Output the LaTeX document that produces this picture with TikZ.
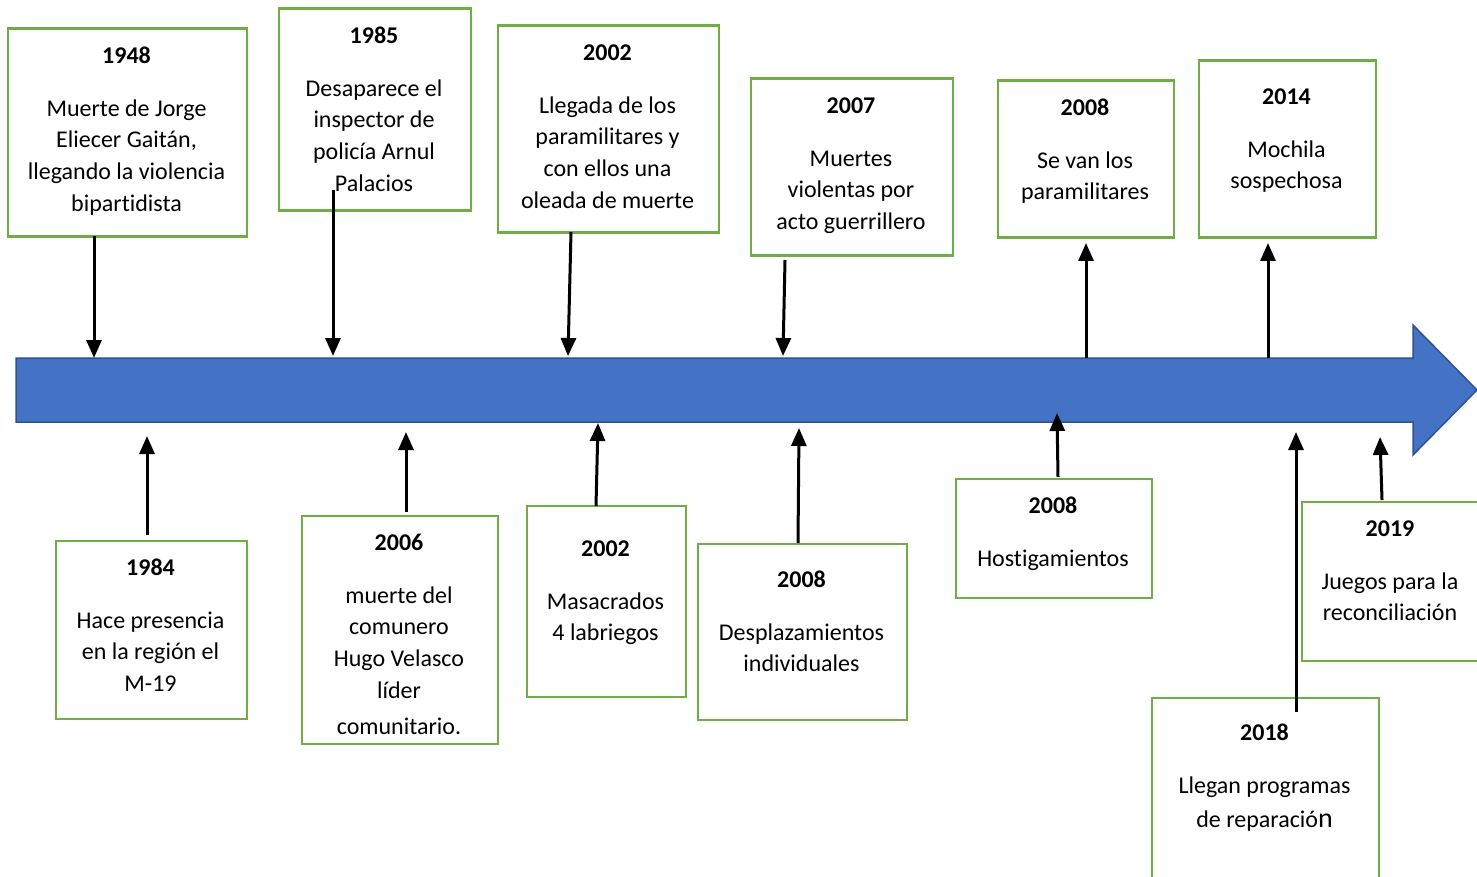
\documentclass[tikz,border=0pt]{standalone}
\usepackage{fontspec}
\setmainfont{Carlito}[Ligatures=NoCommon]
\usetikzlibrary{arrows.meta}
\definecolor{boxgreen}{HTML}{70AD47}
\definecolor{lineblue}{HTML}{4472C4}
\definecolor{lineborder}{HTML}{2F528F}
\tikzset{
  evbox/.style={draw=boxgreen, line width=2.5pt, fill=white, inner sep=0pt, anchor=north west},
  evtext/.style={anchor=north, inner sep=0pt, align=center, font=\fontsize{24}{31.7}\selectfont},
  conn/.style={line width=3pt, -{Triangle[length=18pt,width=15pt]}},
}
% \ev{name}{left}{top}{right}{bottom}{textx}{texty}{year}{body}
\newcommand{\ev}[9]{%
  \node[evbox, minimum width={(#4-#2)*1pt}, minimum height={(#5-#3)*1pt}] (b#1) at (#2-0.5,#3-0.5) {};
  \node[evtext] (t#1) at (#6,#7+1.5) {\strut\textbf{#8}\\[21.3pt]#9};
}
\begin{document}
\begin{tikzpicture}[x=1pt,y=-1pt]
\useasboundingbox (0,0) rectangle (1477,877);
\clip (0,0) rectangle (1477,877);
% timeline
\draw[fill=lineblue, draw=lineborder, line width=1.5pt]
  (16,358) -- (1413,358) -- (1413,325) -- (1477,390) -- (1413,455) -- (1413,422) -- (16,422) -- cycle;
% events above
\ev{1948}{7}{28}{246}{236}{126.5}{39.4}{1948}{Muerte de Jorge\\Eliecer Gaitán,\\llegando la violencia\\bipartidista}
\ev{1985}{278}{8}{470}{210}{374}{19.4}{1985}{Desaparece el\\inspector de\\policía Arnul\\Palacios}
\ev{2002a}{497}{25}{718}{232}{607.5}{36.4}{2002}{Llegada de los\\paramilitares y\\con ellos una\\oleada de muerte}
\ev{2007}{750}{78}{952}{255}{851}{89.4}{2007}{Muertes\\violentas por\\acto guerrillero}
\ev{2008a}{997}{80}{1173}{237}{1085}{91.4}{2008}{Se van los\\paramilitares}
\ev{2014}{1198}{60}{1375}{237}{1286.5}{80.4}{2014}{Mochila\\sospechosa}
% events below
\ev{1984}{55}{540}{246}{718}{150.5}{551.4}{1984}{Hace presencia\\en la región el\\M-19}
\ev{2006}{301}{515}{497}{743}{399}{526.4}{2006}{muerte del\\comunero\\Hugo Velasco\\líder\\[4pt]comunitario.}
\ev{2002b}{526}{505}{685}{696}{605.5}{532.4}{2002}{Masacrados\\4 labriegos}
\ev{2008b}{697}{543}{906}{719}{801.5}{563.4}{2008}{Desplazamientos\\individuales}
\ev{2008c}{955}{478}{1151}{597}{1053}{489.4}{2008}{Hostigamientos}
\ev{2019}{1301}{501}{1480}{660}{1390}{512.4}{2019}{Juegos para la\\reconciliación}
\ev{2018}{1151}{697}{1378}{910}{1264.5}{716.4}{2018}{Llegan programas\\[2.3pt]de reparació{\fontsize{28}{31.7}\selectfont n}}
% arrow end points
\coordinate (s1948) at (94,236);   \coordinate (e1948) at (94,358);
\coordinate (s1985) at (333,190);  \coordinate (e1985) at (333,356);
\coordinate (s2002a) at (571,232); \coordinate (e2002a) at (568,356);
\coordinate (s2007) at (785,260);  \coordinate (e2007) at (783,356);
\coordinate (s2008a) at (1086,358);\coordinate (e2008a) at (1086,243);
\coordinate (s2014) at (1268,358); \coordinate (e2014) at (1268,243);
\coordinate (s1984) at (147,535);  \coordinate (e1984) at (147,436);
\coordinate (s2006) at (406,512);  \coordinate (e2006) at (406,432);
\coordinate (s2002b) at (596,506); \coordinate (e2002b) at (598,423);
\coordinate (s2008b) at (798,543); \coordinate (e2008b) at (799,428);
\coordinate (s2008c) at (1058,477);\coordinate (e2008c) at (1057,413);
\coordinate (s2018) at (1296,712); \coordinate (e2018) at (1296,432);
\coordinate (s2019) at (1382,500); \coordinate (e2019) at (1380,437);
\foreach \n in {1948,1985,2002a,2007,2008a,2014,1984,2006,2002b,2008b,2008c,2018,2019}
  \draw[conn] (s\n) -- (e\n);
\end{tikzpicture}
\end{document}
